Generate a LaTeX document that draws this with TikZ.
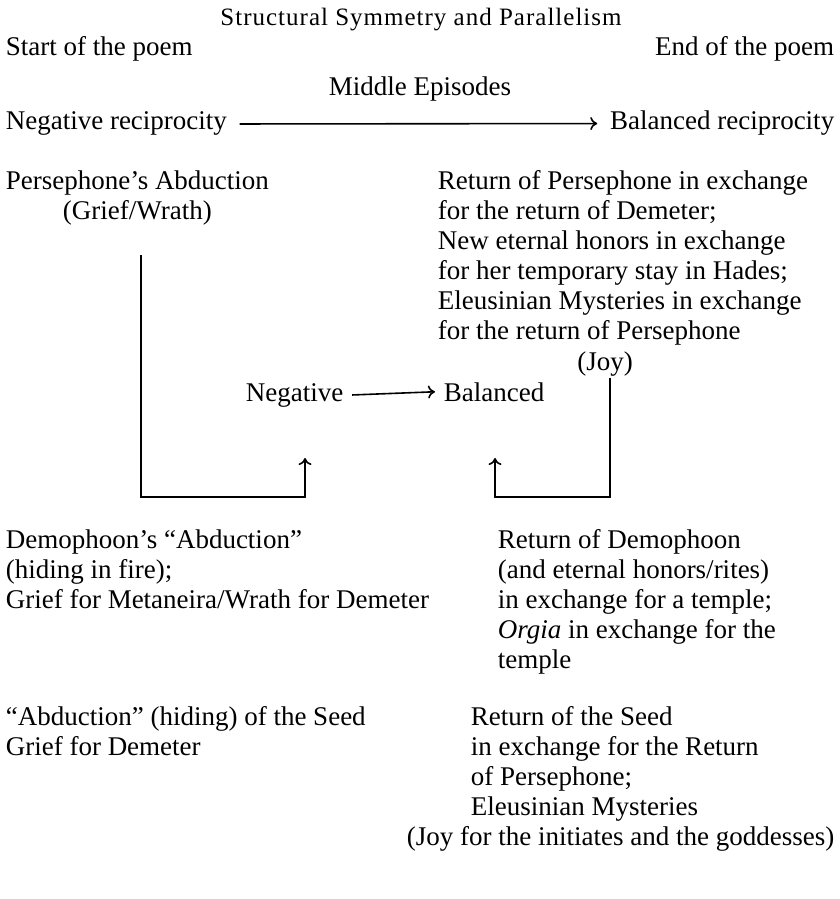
\documentclass[tikz,border=0pt]{standalone}
\usepackage{fontspec}
\setmainfont{Liberation Serif}
\newfontfamily\espace[LetterSpace=4]{Liberation Serif}
\usetikzlibrary{arrows.meta}
\begin{document}
\begin{tikzpicture}[x=0.5pt,y=-0.5pt,line width=0.8pt,
  >={To[length=3.5pt,width=6.5pt]},
  txt/.style={inner sep=0pt,anchor=base west,font=\fontsize{13.5}{15}\selectfont},
  bloc/.style={txt,anchor=north west,align=left}]
\useasboundingbox (0,0) rectangle (840,899);
% en-tete
\node[txt,anchor=base,font=\fontsize{12.5}{15}\selectfont] (titre) at (421,26) {\espace Structural Symmetry and Parallelism};
\node[txt] (debut) at (5,56) {Start of the poem};
\node[txt,anchor=base east] (fin) at (835,56) {End of the poem};
\node[txt,anchor=base] (milieu) at (420,96) {Middle Episodes};
\node[txt] (neg) at (5,130) {Negative reciprocity};
\node[txt,anchor=base east] (bal) at (835,130) {Balanced reciprocity};
\draw[->] ([xshift=6pt]neg.east) -- ([xshift=-6pt]bal.west);
% Persephone
\node[bloc,align=center] (perse) at (5,170) {Persephone's Abduction\\(Grief/Wrath)};
\node[bloc] (retour) at (437,170) {Return of Persephone in exchange\\for the return of Demeter;\\New eternal honors in exchange\\for her temporary stay in Hades;\\Eleusinian Mysteries in exchange\\for the return of Persephone};
\node[txt,anchor=base] (joie) at (605,370) {(Joy)};
% centre
\node[txt] (negc) at (245,401) {Negative};
\node[txt] (balc) at (443,401) {Balanced};
\draw[->] ([xshift=4pt]negc.east) -- ([xshift=-4pt]balc.west);
\coordinate (p1) at (141,255);%depart gauche
\coordinate (p2) at (305,458);%pointe gauche
\coordinate (j1) at (610,378);%depart droite
\coordinate (j2) at (495,458);%pointe droite
\draw[->] (p1) -- ++(0,242) -| (p2);
\draw[->] (j1) -- ++(0,119) -| (j2);
% Demophoon
\node[bloc] (demo) at (5,529) {Demophoon's ``Abduction''\\(hiding in fire);\\Grief for Metaneira/Wrath for Demeter};
\node[bloc] (retdemo) at (497,529) {Return of Demophoon\\(and eternal honors/rites)\\in exchange for a temple;\\\emph{Orgia} in exchange for the\\temple};
% graine
\node[bloc] (graine) at (5,706) {``Abduction'' (hiding) of the Seed\\Grief for Demeter};
\node[bloc] (retgraine) at (470,706) {Return of the Seed\\in exchange for the Return\\of Persephone;\\Eleusinian Mysteries};
\node[txt,anchor=base east] (joie2) at (835,845) {(Joy for the initiates and the goddesses)};
\end{tikzpicture}
\end{document}
